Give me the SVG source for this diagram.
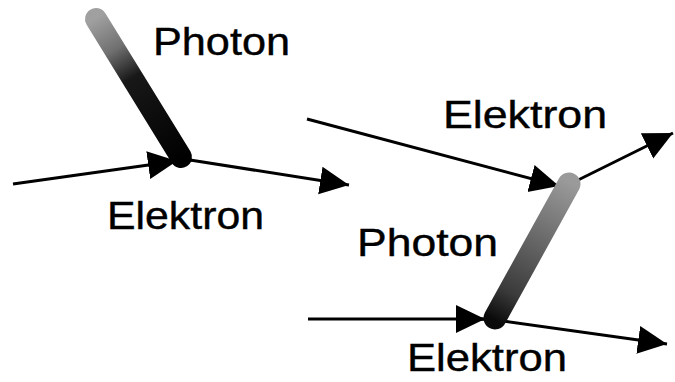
<svg xmlns="http://www.w3.org/2000/svg" width="675" height="382" viewBox="0 0 675 382">
  <style>
    .lbl { font-family: "Liberation Sans", Arial, sans-serif; font-size: 38px; fill: #000; stroke: #000; stroke-width: 0.4; }
    .e { stroke: #000; stroke-width: 3; fill: none; stroke-linecap: butt; marker-end: url(#arrow); }
    .ph { fill: none; stroke-linecap: round; }
  </style>
  <defs>
    <marker id="arrow" markerUnits="userSpaceOnUse" markerWidth="30" markerHeight="30" refX="29" refY="14" orient="auto" viewBox="0 0 30 28">
      <path d="M0,0 L29,14 L0,28 z" fill="#000"/>
    </marker>
    <linearGradient id="gL" gradientUnits="userSpaceOnUse" x1="96" y1="18" x2="182" y2="160">
      <stop offset="0" stop-color="#a0a0a0"/>
      <stop offset="0.22" stop-color="#707070"/>
      <stop offset="0.42" stop-color="#181818"/>
      <stop offset="1" stop-color="#000"/>
    </linearGradient>
    <linearGradient id="gR" gradientUnits="userSpaceOnUse" x1="569" y1="182" x2="494" y2="320">
      <stop offset="0" stop-color="#9a9a9a"/>
      <stop offset="0.4" stop-color="#6a6a6a"/>
      <stop offset="0.8" stop-color="#3a3a3a"/>
      <stop offset="1" stop-color="#0a0a0a"/>
    </linearGradient>
  </defs>

  <g id="connectors">
    <line class="e" x1="13" y1="184" x2="177" y2="161"/>
    <line x1="170" y1="162" x2="192" y2="160" stroke="#000" stroke-width="3"/>
    <line class="e" x1="190" y1="160" x2="349" y2="185"/>

    <line class="e" x1="307" y1="119" x2="559" y2="186"/>
    <line class="e" x1="566" y1="186" x2="673" y2="133"/>

    <line class="e" x1="308" y1="319" x2="485" y2="319"/>
    <line x1="480" y1="319" x2="498" y2="320" stroke="#000" stroke-width="3"/>
    <line class="e" x1="496" y1="320" x2="667" y2="344"/>
  </g>

  <g id="photon-left">
    <line class="ph" x1="96" y1="19" x2="181" y2="157" stroke="url(#gL)" stroke-width="22"/>
  </g>
  <g id="photon-right">
    <line class="ph" x1="569" y1="184" x2="495" y2="318" stroke="url(#gR)" stroke-width="23"/>
  </g>

  <g id="label-photon-left"><text class="lbl" x="153" y="55" textLength="137" lengthAdjust="spacingAndGlyphs">Photon</text></g>
  <g id="label-elektron-left"><text class="lbl" x="107" y="229" textLength="157" lengthAdjust="spacingAndGlyphs">Elektron</text></g>
  <g id="label-elektron-top"><text class="lbl" x="443" y="128" textLength="164" lengthAdjust="spacingAndGlyphs">Elektron</text></g>
  <g id="label-photon-right"><text class="lbl" x="357" y="256" textLength="141" lengthAdjust="spacingAndGlyphs">Photon</text></g>
  <g id="label-elektron-bottom"><text class="lbl" x="407" y="371" textLength="160" lengthAdjust="spacingAndGlyphs">Elektron</text></g>
</svg>
